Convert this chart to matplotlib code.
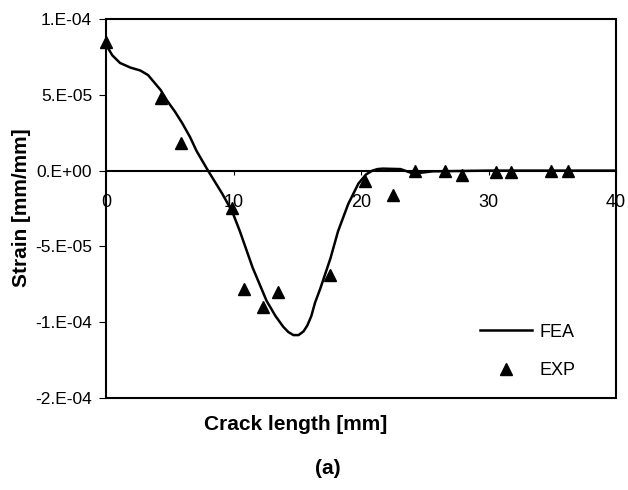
import matplotlib.pyplot as plt
from matplotlib.patches import Rectangle

plt.rcParams['font.family'] = ['Liberation Sans', 'DejaVu Sans']

# FEA curve (crack length mm, strain)
fea_x = [0, 0.5, 1.1, 1.9, 2.7, 3.3, 3.7, 4.3, 4.8, 5.4, 6.0, 6.6, 7.1, 8.0,
         9.1, 9.9, 10.5, 11.5, 12.6, 13.3, 13.9, 14.3, 14.7, 15.1, 15.5, 15.8,
         16.1, 16.4, 16.8, 17.2, 17.6, 18.2, 19.0, 19.8, 20.4, 20.9, 21.3,
         21.7, 23.1, 24.1, 25.6, 30, 35, 40]
fea_y = [8.3e-5, 7.6e-5, 7.1e-5, 6.8e-5, 6.6e-5, 6.3e-5, 5.9e-5, 5.3e-5,
         4.6e-5, 3.9e-5, 3.1e-5, 2.2e-5, 1.3e-5, 0.0, -1.5e-5, -2.7e-5,
         -4.0e-5, -6.4e-5, -8.6e-5, -9.6e-5, -10.3e-5, -10.65e-5, -10.85e-5,
         -10.85e-5, -10.6e-5, -10.2e-5, -9.6e-5, -8.7e-5, -7.8e-5, -6.8e-5,
         -5.8e-5, -4.0e-5, -2.2e-5, -0.85e-5, -0.25e-5, 0.0, 0.1e-5, 0.13e-5,
         0.1e-5, -0.2e-5, -0.05e-5, 0.0, 0.0, 0.0]

# experimental points
exp_x = [0, 4.3, 5.9, 9.9, 10.8, 12.3, 13.5, 17.6, 20.3, 22.5, 24.2, 26.6,
         27.9, 30.6, 31.8, 34.9, 36.2]
exp_y = [8.5e-5, 4.8e-5, 1.8e-5, -2.5e-5, -7.8e-5, -9.0e-5, -8.0e-5, -6.9e-5,
         -0.7e-5, -1.6e-5, 0.0, 0.0, -0.3e-5, -0.1e-5, -0.1e-5, 0.0, 0.0]

xticks = [0, 10, 20, 30, 40]
yticks = [1e-4, 5e-5, 0, -5e-5, -1e-4, -1.5e-4]
ytick_labels = ['1.E-04', '5.E-05', '0.E+00', '-5.E-05', '-1.E-04', '-2.E-04']

fig = plt.figure(figsize=(6.28, 4.9), dpi=100)
ax = fig.add_axes([106/628, 1 - 398/490, 510/628, 379/490])

ax.plot(fea_x, fea_y, color='black', lw=1.8, label='FEA')
ax.plot(exp_x, exp_y, linestyle='none', marker='^', ms=9, color='black',
        label='EXP', clip_on=False, zorder=5)

ax.set_xlim(0, 40)
ax.set_ylim(-1.5e-4, 1e-4)

# x axis sits at strain = 0, box drawn around the plot
ax.spines['bottom'].set_position(('data', 0))
ax.spines['bottom'].set_linewidth(1.5)
for s in ['left', 'top', 'right']:
    ax.spines[s].set_linewidth(1.3)
ax.add_patch(Rectangle((0, 0), 1, 1, transform=ax.transAxes, fill=False,
                       lw=1.5, color='black', clip_on=False))

ax.set_xticks(xticks)
ax.set_xticklabels([str(v) for v in xticks])
ax.set_yticks(yticks)
ax.set_yticklabels(ytick_labels)
ax.tick_params(axis='x', direction='out', length=3, pad=14, labelsize=13)
ax.tick_params(axis='y', direction='out', length=5, pad=5, labelsize=12.5)

fig.text(296/628, 1 - 424/490, 'Crack length [mm]', ha='center', va='center',
         fontsize=15, fontweight='bold')
fig.text(22/628, 1 - 208/490, 'Strain [mm/mm]', ha='center', va='center',
         rotation=90, fontsize=15, fontweight='bold')
fig.text(328/628, 1 - 468/490, '(a)', ha='center', va='center',
         fontsize=15, fontweight='bold')

ax.legend(loc='lower right', bbox_to_anchor=(588/628, 1 - 392/490),
          bbox_transform=fig.transFigure, frameon=False, fontsize=13,
          handlelength=2.9, labelspacing=1.2, handletextpad=0.4,
          borderpad=0.2)

fig.savefig('out.png', dpi=100)
